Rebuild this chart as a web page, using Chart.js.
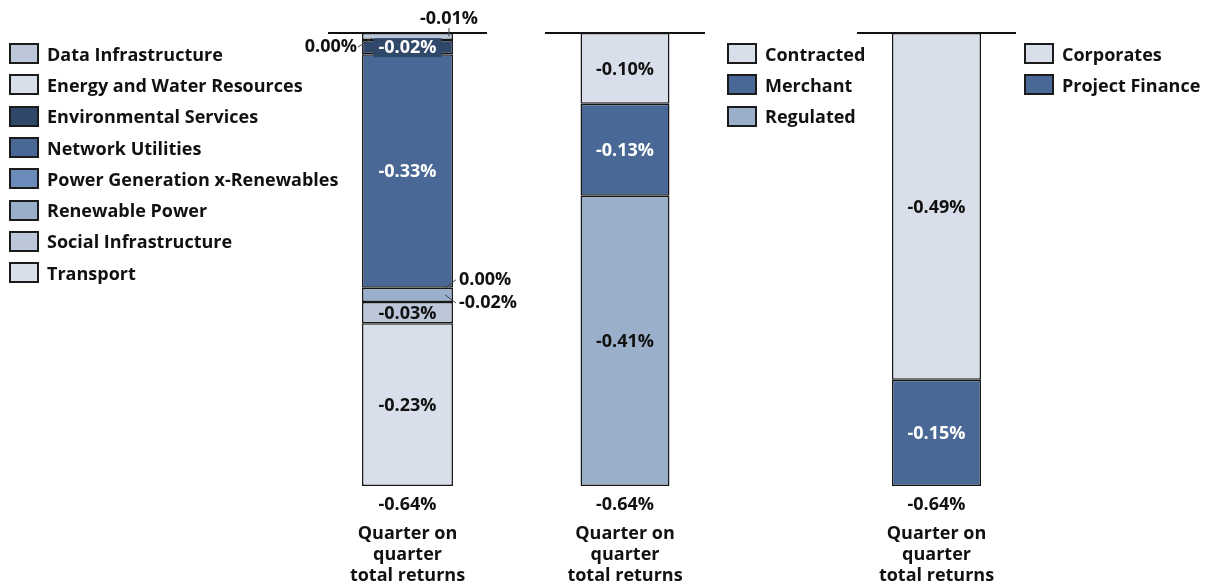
<!DOCTYPE html>
<html>
<head>
<meta charset="utf-8">
<script src="https://cdn.jsdelivr.net/npm/chart.js@4"></script>
<style>
  html, body { margin: 0; padding: 0; background: #fff; }
  #wrap { position: relative; width: 1212px; height: 585px; overflow: hidden; }
  #wrap canvas { position: absolute; left: 0; top: 0; }
  .legend { position: absolute; font: 700 18px 'Open Sans', sans-serif; color: #111; }
  .legend .item { display: flex; align-items: center; height: 31.3px; white-space: nowrap; }
  .legend .swatch { width: 26px; height: 17px; border: 2px solid #1b1b1b; margin-right: 8px; flex: none; }
</style>
</head>
<body>
<div id="wrap">
  <canvas id="c1" width="1212" height="585"></canvas>
  <canvas id="c2" width="1212" height="585"></canvas>
  <canvas id="c3" width="1212" height="585"></canvas>
</div>
<script>
// ─── DATA ────────────────────────────────────────────────────────────────────
const category = ['Quarter on', 'quarter', 'total returns'];

const sectorNames = ['Data Infrastructure', 'Energy and Water Resources', 'Environmental Services',
  'Network Utilities', 'Power Generation x-Renewables', 'Renewable Power', 'Social Infrastructure', 'Transport'];
const sectorValues = [-0.01, 0.00, -0.02, -0.33, 0.00, -0.02, -0.03, -0.23];

const contractNames = ['Contracted', 'Merchant', 'Regulated'];
const contractValues = [-0.10, -0.13, -0.41];

const financeNames = ['Corporates', 'Project Finance'];
const financeValues = [-0.49, -0.15];

const yMin = -0.64;

// ─── STYLE ───────────────────────────────────────────────────────────────────
const C = {
  pale: '#d9dfea', light: '#bcc8da', mid: '#9aafc9',
  power: '#6b8cbb', network: '#4a6896', navy: '#2f4768'
};
const sectorColors = [C.light, C.pale, C.navy, C.network, C.power, C.mid, C.light, C.pale];
const contractColors = [C.pale, C.network, C.mid];
const financeColors = [C.pale, C.network];

const FONT = "700 18px 'Open Sans', sans-serif";
const INK = '#111';

function pct(v) {
  return (Math.round(v * 100) / 100).toFixed(2) + '%';
}

function isDark(hex) {
  const n = parseInt(hex.slice(1), 16);
  const r = n >> 16, g = (n >> 8) & 255, b = n & 255;
  return (0.299 * r + 0.587 * g + 0.114 * b) < 140;
}

// zero line, segment labels, total and category caption
const panelDecor = {
  id: 'panelDecor',
  afterDatasetsDraw(chart, args, opts) {
    const { ctx, chartArea, scales } = chart;
    const y0 = scales.y.getPixelForValue(0);
    const callouts = opts.callouts || {};

    ctx.save();
    ctx.strokeStyle = INK;
    ctx.lineWidth = 2;
    ctx.beginPath();
    ctx.moveTo(chartArea.left, y0);
    ctx.lineTo(chartArea.right, y0);
    ctx.stroke();

    ctx.font = FONT;
    ctx.textBaseline = 'middle';
    ctx.lineWidth = 1;

    let total = 0, bx = 0;
    chart.data.datasets.forEach((ds, i) => {
      const bar = chart.getDatasetMeta(i).data[0];
      const v = ds.data[0];
      total += v;
      bx = bar.x;
      const txt = pct(v);
      const cy = (bar.y + bar.base) / 2;
      const left = bar.x - bar.width / 2, right = bar.x + bar.width / 2;
      const c = callouts[i];
      const lead = (x1, y1, x2, y2) => {
        ctx.strokeStyle = '#444';
        ctx.beginPath(); ctx.moveTo(x1, y1); ctx.lineTo(x2, y2); ctx.stroke();
      };

      if (!c) {
        ctx.textAlign = 'center';
        ctx.fillStyle = isDark(ds.backgroundColor) ? '#fff' : INK;
        ctx.fillText(txt, bar.x, cy + 1);
        return;
      }
      if (c.type === 'boxed') {
        const w = ctx.measureText(txt).width + 10;
        ctx.fillStyle = ds.backgroundColor;
        ctx.fillRect(bar.x - w / 2, cy - 9, w, 19);
        ctx.textAlign = 'center';
        ctx.fillStyle = '#fff';
        ctx.fillText(txt, bar.x, cy + 1);
      } else if (c.type === 'top') {
        const x = right - 4;
        ctx.textAlign = 'center';
        ctx.fillStyle = INK;
        ctx.fillText(txt, x, y0 - 14);
        lead(x, y0 - 5, x, cy);
      } else if (c.type === 'left') {
        ctx.textAlign = 'right';
        ctx.fillStyle = INK;
        ctx.fillText(txt, left - 5, cy + c.dy);
        lead(left - 4, cy + c.dy, left + 10, cy - 2);
      } else if (c.type === 'right') {
        ctx.textAlign = 'left';
        ctx.fillStyle = INK;
        ctx.fillText(txt, right + 6, cy + c.dy);
        lead(right + 3, cy + c.dy, right - 8, cy);
      }
    });

    const bottom = scales.y.getPixelForValue(yMin);
    ctx.textAlign = 'center';
    ctx.fillStyle = INK;
    ctx.fillText(pct(total), bx, bottom + 19);
    chart.data.labels[0].forEach((line, k) => ctx.fillText(line, bx, bottom + 48 + k * 21));
    ctx.restore();
  }
};

function makePanel(id, names, values, colors, area, barFrac, callouts) {
  new Chart(document.getElementById(id), {
    type: 'bar',
    data: {
      labels: [category],
      datasets: names.map((n, i) => ({
        label: n,
        data: [values[i]],
        backgroundColor: colors[i],
        borderColor: '#161616',
        borderWidth: 1.5,
        borderSkipped: false,
        barPercentage: barFrac,
        categoryPercentage: 1
      }))
    },
    options: {
      responsive: false,
      animation: false,
      events: [],
      layout: { padding: { left: area[0], right: 1212 - area[1], top: 33, bottom: 99 } },
      plugins: {
        legend: { display: false },
        tooltip: { enabled: false },
        panelDecor: { callouts }
      },
      scales: {
        x: { stacked: true, display: false },
        y: { stacked: true, display: false, min: yMin, max: 0 }
      }
    },
    plugins: [panelDecor]
  });
}

function makeLegend(names, colors, left, top) {
  const div = document.createElement('div');
  div.className = 'legend';
  div.style.left = left + 'px';
  div.style.top = top + 'px';
  div.innerHTML = names.map((n, i) =>
    `<div class="item"><span class="swatch" style="background:${colors[i]}"></span>${n}</div>`).join('');
  document.getElementById('wrap').appendChild(div);
}

makePanel('c1', sectorNames, sectorValues, sectorColors, [328, 487], 0.572, {
  0: { type: 'top' },
  1: { type: 'left', dy: 7 },
  2: { type: 'boxed' },
  4: { type: 'right', dy: -8 },
  5: { type: 'right', dy: 8 }
});
makePanel('c2', contractNames, contractValues, contractColors, [545, 705], 0.556, {});
makePanel('c3', financeNames, financeValues, financeColors, [857, 1016], 0.56, {});

makeLegend(sectorNames, sectorColors, 9, 38);
makeLegend(contractNames, contractColors, 727, 38);
makeLegend(financeNames, financeColors, 1024, 38);
</script>
</body>
</html>
